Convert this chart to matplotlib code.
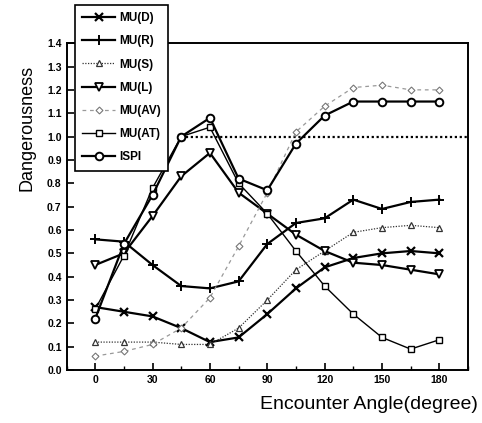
import matplotlib
matplotlib.use("Agg")
import matplotlib.pyplot as plt
from matplotlib.ticker import MultipleLocator

angles = [0, 15, 30, 45, 60, 75, 90, 105, 120, 135, 150, 165, 180]
mu_d = [0.27, 0.25, 0.23, 0.18, 0.12, 0.14, 0.24, 0.35, 0.44, 0.48, 0.50, 0.51, 0.50]
mu_r = [0.56, 0.55, 0.45, 0.36, 0.35, 0.38, 0.54, 0.63, 0.65, 0.73, 0.69, 0.72, 0.73]
mu_s = [0.12, 0.12, 0.12, 0.11, 0.11, 0.18, 0.30, 0.43, 0.51, 0.59, 0.61, 0.62, 0.61]
mu_l = [0.45, 0.50, 0.66, 0.83, 0.93, 0.76, 0.67, 0.58, 0.51, 0.46, 0.45, 0.43, 0.41]
mu_av = [0.06, 0.08, 0.11, 0.18, 0.31, 0.53, 0.76, 1.02, 1.13, 1.21, 1.22, 1.20, 1.20]
mu_at = [0.26, 0.49, 0.78, 1.00, 1.04, 0.80, 0.67, 0.51, 0.36, 0.24, 0.14, 0.09, 0.13]
ispi = [0.22, 0.54, 0.75, 1.00, 1.08, 0.82, 0.77, 0.97, 1.09, 1.15, 1.15, 1.15, 1.15]
threshold = 1.0
threshold_start = 45

plt.rcParams['font.family'] = ['Liberation Sans', 'DejaVu Sans']

fig = plt.figure(figsize=(4.82, 4.23), dpi=100)
ax = fig.add_axes([0.138, 0.125, 0.833, 0.773])

ax.hlines(threshold, threshold_start, 195, colors='black', linestyles=(0, (1, 1.2)), linewidth=1.6, zorder=1)

ax.plot(angles, mu_d, color='black', lw=1.6, marker='x', ms=5.5, mew=1.6, label='MU(D)')
ax.plot(angles, mu_r, color='black', lw=1.6, marker='+', ms=6.5, mew=1.4, label='MU(R)')
ax.plot(angles, mu_s, color='#333333', lw=0.9, ls=(0, (1, 1.2)), marker='^', ms=4.5, mfc='white', mec='#333333', mew=0.9, label='MU(S)')
ax.plot(angles, mu_l, color='black', lw=1.6, marker='v', ms=5.5, mfc='white', mec='black', mew=1.3, label='MU(L)')
ax.plot(angles, mu_av, color='#999999', lw=0.9, ls=(0, (3, 3)), marker='D', ms=3.5, mfc='white', mec='#777777', mew=0.8, label='MU(AV)')
ax.plot(angles, mu_at, color='black', lw=1.0, marker='s', ms=4.5, mfc='white', mec='black', mew=1.0, label='MU(AT)')
ax.plot(angles, ispi, color='black', lw=1.6, marker='o', ms=5.5, mfc='white', mec='black', mew=1.4, label='ISPI')

ax.set_xlim(-15, 195)
ax.set_ylim(0.0, 1.4)
ax.xaxis.set_minor_locator(MultipleLocator(15))
ax.set_xticks(angles[::2])
ax.tick_params(axis='both', which='major', direction='in', length=5, width=1.2, labelsize=7.5, top=False, right=False)
ax.tick_params(axis='x', which='minor', direction='in', length=3, width=1.0, top=False)
for lbl in ax.get_xticklabels():
    lbl.set_fontweight('bold')
ax.set_yticks([i / 10 for i in range(15)])
ax.set_yticklabels([f"{i/10:.1f}" for i in range(15)], fontweight='bold', fontsize=7.5)
for s in ax.spines.values():
    s.set_linewidth(1.4)

ax.set_xlabel('Encounter Angle(degree)', fontsize=14, ha='right', x=1.025, labelpad=8)
ax.set_ylabel('Dangerousness', fontsize=13, y=0.74, labelpad=8)

leg = fig.legend(loc='upper left', bbox_to_anchor=(0.156, 0.988), bbox_transform=fig.transFigure,
                 borderaxespad=0.0, frameon=True, fancybox=False, edgecolor='black', framealpha=1.0,
                 prop={'weight': 'bold', 'size': 8.5}, handlelength=2.8, labelspacing=0.95,
                 borderpad=0.6, handletextpad=0.3)
leg.get_frame().set_linewidth(1.2)

fig.savefig('out.png', dpi=100)
